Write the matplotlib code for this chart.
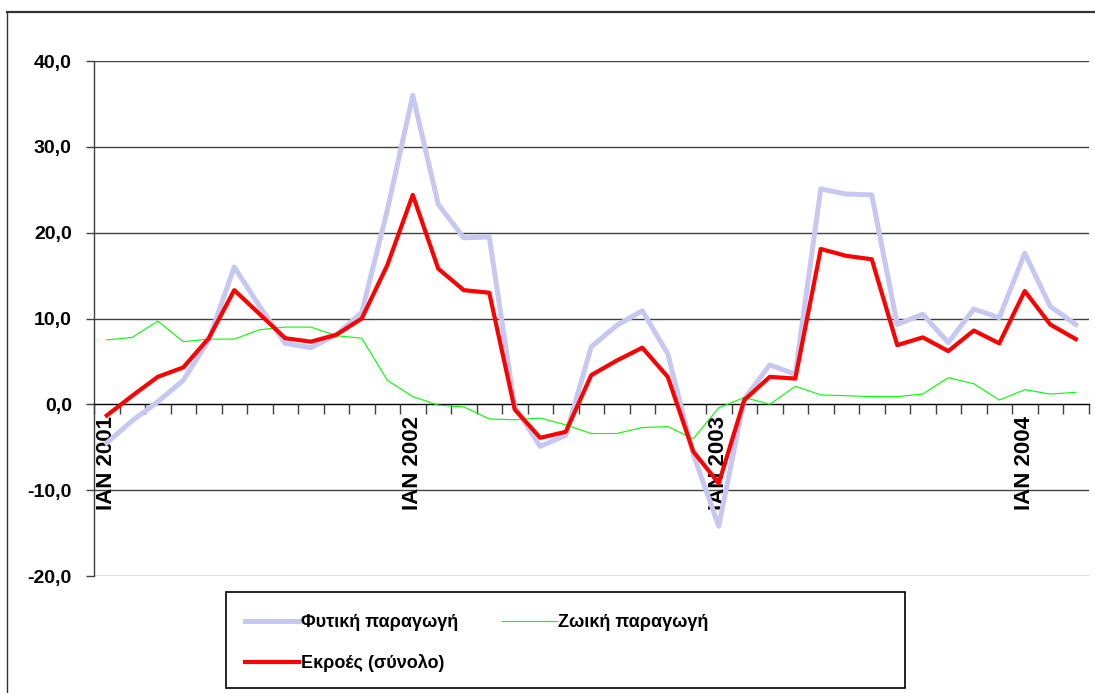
import numpy as np
import matplotlib
matplotlib.use("Agg")
import matplotlib.pyplot as plt
from matplotlib.lines import Line2D
from matplotlib.patches import Rectangle
import matplotlib.transforms as mtransforms

plt.rcParams['font.family'] = ['Liberation Sans', 'DejaVu Sans']

# ---- data ----
month_labels = ["IAN 2001"] + [""] * 11 + ["IAN 2002"] + [""] * 11 + \
               ["IAN 2003"] + [""] * 11 + ["IAN 2004", "", ""]
fytiki = [-4.5, -1.9, 0.3, 2.8, 7.5, 16.0, 11.4, 7.1, 6.6, 8.1, 10.7, 22.6,
          36.0, 23.3, 19.4, 19.5, -0.3, -4.9, -3.6, 6.7, 9.2, 10.9, 5.9, -5.8,
          -14.2, 0.6, 4.6, 3.5, 25.1, 24.5, 24.4, 9.3, 10.5, 7.2, 11.1, 10.1,
          17.6, 11.4, 9.3]
zoiki = [7.5, 7.8, 9.7, 7.3, 7.6, 7.6, 8.7, 9.0, 9.0, 8.0, 7.7, 2.8,
         0.9, -0.1, -0.3, -1.7, -1.8, -1.6, -2.4, -3.4, -3.4, -2.7, -2.6, -4.0,
         -0.4, 0.8, 0.0, 2.1, 1.1, 1.0, 0.9, 0.9, 1.2, 3.1, 2.4, 0.5,
         1.7, 1.2, 1.4]
ekroes = [-1.3, 1.0, 3.2, 4.3, 7.7, 13.3, 10.5, 7.7, 7.3, 8.1, 10.0, 16.2,
          24.4, 15.8, 13.3, 13.0, -0.6, -3.9, -3.2, 3.4, 5.1, 6.6, 3.2, -5.5,
          -9.2, 0.5, 3.2, 3.0, 18.1, 17.3, 16.9, 6.9, 7.8, 6.2, 8.6, 7.1,
          13.2, 9.3, 7.6]
series_names = ["Φυτική παραγωγή", "Ζωική παραγωγή", "Εκροές (σύνολο)"]
yticks = [-20, -10, 0, 10, 20, 30, 40]
ytick_labels = ["-20,0", "-10,0", "0,0", "10,0", "20,0", "30,0", "40,0"]

W, H = 1095, 693
fig = plt.figure(figsize=(W / 100, H / 100), dpi=100)
ax = fig.add_axes([94 / W, (H - 576) / H, 994.5 / W, 515 / H])

x = np.arange(len(month_labels))
ax.set_xlim(-0.5, len(month_labels) - 0.5)
ax.set_ylim(-20, 40)

for s in ['top', 'right']:
    ax.spines[s].set_visible(False)
ax.spines['bottom'].set_position(('data', 0))
ax.spines['bottom'].set_color('black')
ax.spines['bottom'].set_linewidth(1.0)
ax.spines['left'].set_color('#404040')
ax.spines['left'].set_linewidth(1.0)

for yv in yticks:
    if yv != 0:
        ax.axhline(yv, color='#404040', lw=1.0, zorder=1)

ax.set_yticks(yticks)
ax.set_yticklabels(ytick_labels, fontsize=14, fontweight='bold')
ax.tick_params(axis='y', length=6, width=1, pad=10, color='#404040')
ax.set_xticks(np.arange(-0.5, len(month_labels), 1))
ax.set_xticklabels([])
ax.tick_params(axis='x', length=7, width=1, direction='out', color='#404040')

off = mtransforms.offset_copy(ax.transData, fig=fig, x=0, y=-12, units='dots')
for i, lab in enumerate(month_labels):
    if lab:
        ax.text(x[i], 0, lab, rotation=90, ha='center', va='top',
                fontsize=16, fontweight='bold', transform=off)

hf, = ax.plot(x, fytiki, color='#C6C8F2', lw=3.6, zorder=3)
hz, = ax.plot(x, zoiki, color='#00FF00', lw=0.8, zorder=4)
he, = ax.plot(x, ekroes, color='#FF0000', lw=3.0, zorder=5)

# outer chart frame
fig.add_artist(Line2D([7 / W, 1], [1 - 12 / H, 1 - 12 / H], transform=fig.transFigure,
                      color='#333333', lw=1.6))
fig.add_artist(Line2D([7 / W, 7 / W], [0, 1 - 12 / H], transform=fig.transFigure,
                      color='#333333', lw=1.0))

# legend frame
fig.add_artist(Rectangle((226 / W, (H - 688) / H), (905 - 226) / W, 96 / H,
                         transform=fig.transFigure, fill=False, ec='black', lw=1.2))
fig.legend(handles=[hf, he, hz], labels=[series_names[0], series_names[2], series_names[1]],
           ncol=2, loc='upper left', bbox_to_anchor=(236 / W, 1 - 605 / H),
           frameon=False, borderpad=0, handlelength=3.0, handletextpad=0.1,
           columnspacing=2.45, labelspacing=1.3,
           prop={'weight': 'bold', 'size': 13})

fig.savefig("out.png", dpi=100)
